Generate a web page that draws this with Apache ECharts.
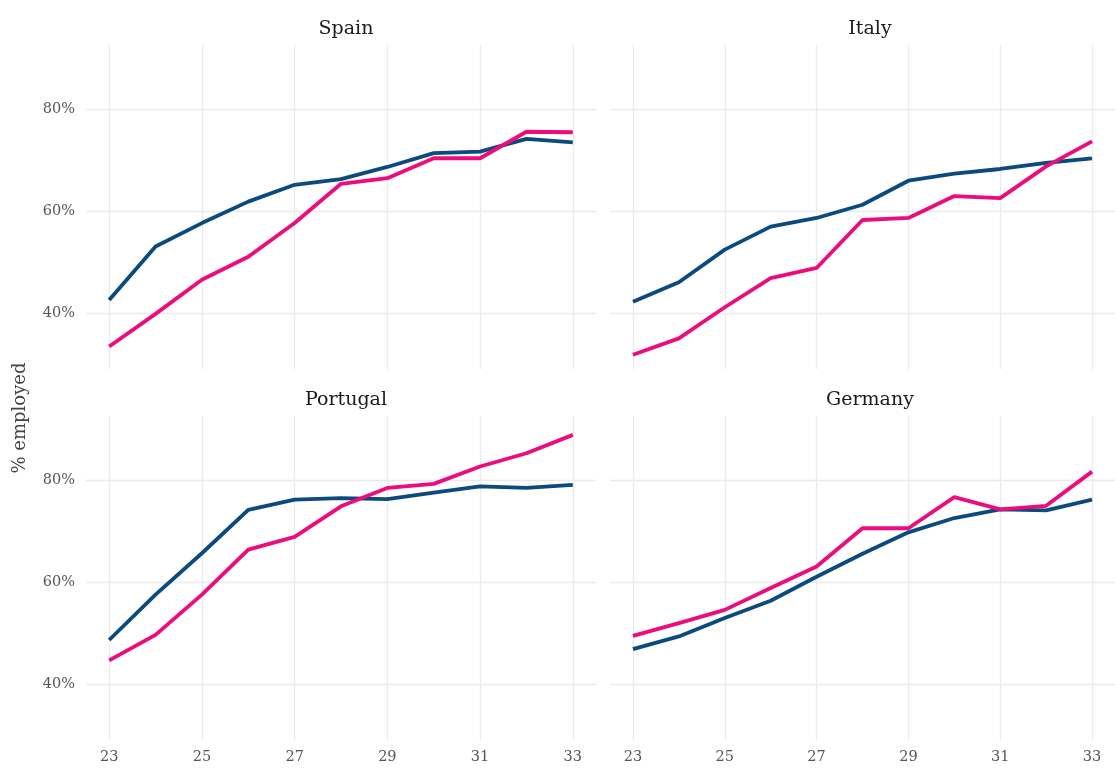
<!DOCTYPE html>
<html>
<head>
<meta charset="utf-8">
<script src="https://cdn.jsdelivr.net/npm/echarts@6/dist/echarts.min.js"></script>
<style>
  html, body { margin: 0; padding: 0; background: #fff; }
  #chart { width: 1115px; height: 769px; }
</style>
</head>
<body>
<div id="chart"></div>
<script>
const ages = [23, 24, 25, 26, 27, 28, 29, 30, 31, 32, 33];
const xTicks = [23, 25, 27, 29, 31, 33];
const yTicks = [40, 60, 80];
const countries = ['Spain', 'Italy', 'Portugal', 'Germany'];

// blue line and pink line per country, % employed by age
const spainBlue = [42.5, 53.0, 57.6, 61.8, 65.1, 66.2, 68.6, 71.3, 71.6, 74.1, 73.4];
const spainPink = [33.4, 39.8, 46.5, 51.0, 57.6, 65.3, 66.4, 70.3, 70.3, 75.5, 75.4];
const italyBlue = [42.2, 46.0, 52.4, 56.9, 58.6, 61.2, 65.9, 67.3, 68.2, 69.4, 70.3];
const italyPink = [31.8, 35.0, 41.1, 46.8, 48.8, 58.2, 58.6, 62.9, 62.5, 68.7, 73.6];
const portugalBlue = [48.6, 57.5, 65.6, 74.1, 76.1, 76.4, 76.2, 77.5, 78.7, 78.4, 79.0];
const portugalPink = [44.6, 49.6, 57.5, 66.3, 68.8, 74.8, 78.4, 79.2, 82.6, 85.2, 88.8];
const germanyBlue = [46.8, 49.3, 52.9, 56.3, 61.0, 65.5, 69.7, 72.5, 74.2, 74.0, 76.1];
const germanyPink = [49.4, 51.9, 54.5, 58.8, 63.0, 70.5, 70.5, 76.6, 74.2, 74.9, 81.6];

const blueData = [spainBlue, italyBlue, portugalBlue, germanyBlue];
const pinkData = [spainPink, italyPink, portugalPink, germanyPink];

const BLUE = '#0B4A7E';
const PINK = '#EC0C7C';
const FONT = '"Roboto Slab", "DejaVu Serif", serif';
const GRID_COLOR = '#EBEBEB';

const panels = [
  { left: 86, top: 45 },
  { left: 610, top: 45 },
  { left: 86, top: 416 },
  { left: 610, top: 416 },
];
const panelW = 510;
const panelH = 324;

const chart = echarts.init(document.getElementById('chart'));

const grid = panels.map(p => ({ left: p.left, top: p.top, width: panelW, height: panelH }));

const xAxis = panels.map((p, i) => ({
  type: 'value',
  gridIndex: i,
  min: 22.5,
  max: 33.5,
  axisLine: { show: false },
  axisTick: { show: false, customValues: xTicks },
  axisLabel: {
    show: i >= 2,
    customValues: xTicks,
    color: '#555',
    fontSize: 14.5,
    fontFamily: FONT,
    margin: 10,
  },
  splitLine: { show: true, lineStyle: { color: GRID_COLOR, width: 1.3 } },
}));

const yAxis = panels.map((p, i) => ({
  type: 'value',
  gridIndex: i,
  min: 29,
  max: 92.5,
  axisLine: { show: false },
  axisTick: { show: false, customValues: yTicks },
  axisLabel: {
    show: i % 2 === 0,
    customValues: yTicks,
    formatter: v => v + '%',
    color: '#555',
    fontSize: 14.5,
    fontFamily: FONT,
    margin: 11,
  },
  splitLine: { show: true, lineStyle: { color: GRID_COLOR, width: 1.3 } },
}));

const series = [];
countries.forEach((c, i) => {
  series.push({
    name: c + ' blue',
    type: 'line',
    xAxisIndex: i,
    yAxisIndex: i,
    symbol: 'none',
    lineStyle: { color: BLUE, width: 3.8 },
    data: ages.map((a, k) => [a, blueData[i][k]]),
  });
  series.push({
    name: c + ' pink',
    type: 'line',
    xAxisIndex: i,
    yAxisIndex: i,
    symbol: 'none',
    lineStyle: { color: PINK, width: 3.8 },
    data: ages.map((a, k) => [a, pinkData[i][k]]),
  });
});

const title = countries.map((c, i) => ({
  text: c,
  left: panels[i].left + panelW / 2,
  top: panels[i].top - 30,
  textAlign: 'center',
  textStyle: { fontFamily: FONT, fontSize: 19, fontWeight: 'normal', color: '#1A1A1A' },
}));

const option = {
  animation: false,
  backgroundColor: '#fff',
  title: title,
  grid: grid,
  xAxis: xAxis,
  yAxis: yAxis,
  series: series,
  graphic: [
    {
      type: 'text',
      x: 20,
      y: 418,
      rotation: Math.PI / 2,
      style: {
        text: '% employed',
        fontFamily: FONT,
        fontSize: 18,
        fill: '#444',
        align: 'center',
        verticalAlign: 'middle',
      },
    },
  ],
};

chart.setOption(option);
</script>
</body>
</html>
